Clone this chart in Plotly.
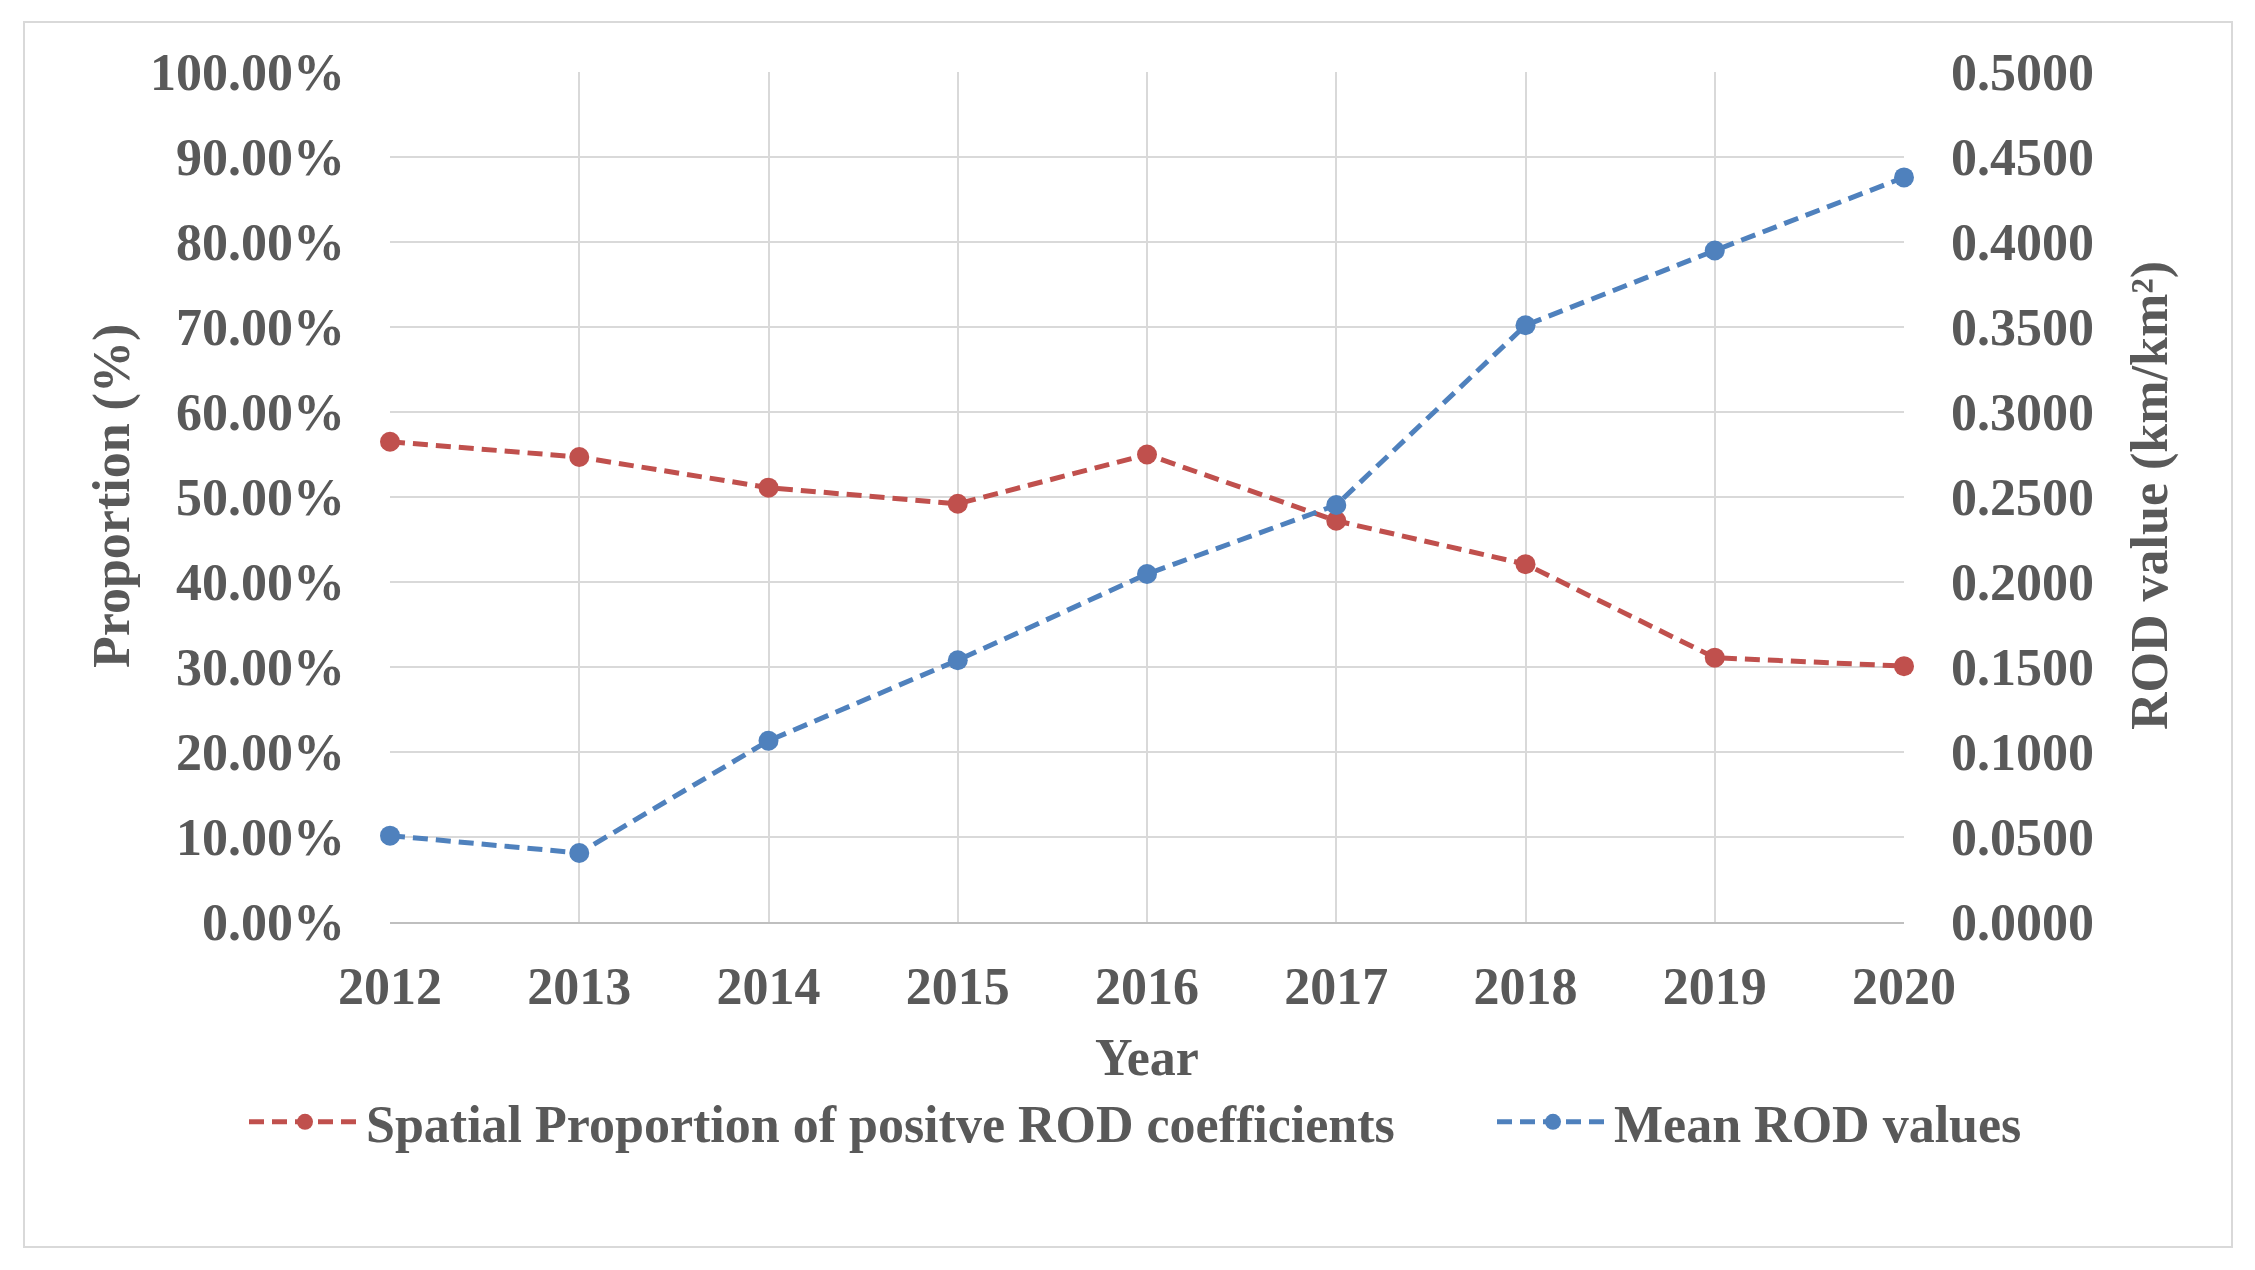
import plotly.graph_objects as go

years = [2012, 2013, 2014, 2015, 2016, 2017, 2018, 2019, 2020]
proportion_positive = [56.5, 54.7, 51.1, 49.2, 55.0, 47.2, 42.1, 31.1, 30.1]
mean_rod = [0.0508, 0.0406, 0.1066, 0.1540, 0.2047, 0.2453, 0.3510, 0.3950, 0.4380]

left_ticks = [0, 10, 20, 30, 40, 50, 60, 70, 80, 90, 100]
left_labels = [f"{v:.2f}%" for v in left_ticks]
right_ticks = [0, 0.05, 0.1, 0.15, 0.2, 0.25, 0.3, 0.35, 0.4, 0.45, 0.5]
right_labels = [f"{v:.4f}" for v in right_ticks]

RED = "#C0504D"
BLUE = "#4F81BD"
GRID = "#D9D9D9"
TXT = "#595959"
FONT = "Liberation Serif"
FS = 52

W, H = 2255, 1270
OFF = 8  # page offset of the figure in the browser
L, T = 390 - OFF, 72 - OFF
PR, PB = 1904 - OFF, 922 - OFF
R, B = W - PR, H - PB
pw, ph = PR - L, PB - T

def px_x(x):
    return (x - OFF - L) / pw

def px_y(y):
    return (PB - (y - OFF)) / ph

fig = go.Figure()
fig.add_trace(go.Scatter(
    x=years, y=proportion_positive, name="Spatial Proportion of positve ROD coefficients",
    mode="lines+markers", cliponaxis=False, legend="legend",
    line=dict(color=RED, width=5, dash="15px,8px"),
    marker=dict(color=RED, size=20, symbol="circle"),
    yaxis="y"))
fig.add_trace(go.Scatter(
    x=years, y=mean_rod, name="Mean ROD values",
    mode="lines+markers", cliponaxis=False, legend="legend2",
    line=dict(color=BLUE, width=5, dash="15px,8px"),
    marker=dict(color=BLUE, size=20, symbol="circle"),
    yaxis="y2"))

tickfont = dict(family=FONT, size=FS, color=TXT, weight="bold")
legfont = dict(family=FONT, size=FS, color=TXT, weight="bold")

fig.update_layout(
    width=W, height=H,
    margin=dict(l=L, r=R, t=T, b=B, autoexpand=False),
    paper_bgcolor="white", plot_bgcolor="white",
    font=dict(family=FONT, size=FS, color=TXT, weight="bold"),
    xaxis=dict(range=[2012, 2020], tickvals=years, ticktext=[str(y) for y in years],
               showgrid=True, gridcolor=GRID, gridwidth=2, zeroline=False,
               showline=True, linecolor="#BFBFBF", linewidth=2, mirror=False,
               ticks="", tickfont=tickfont, ticklabelstandoff=18, automargin=False),
    yaxis=dict(range=[0, 100], tickvals=left_ticks, ticktext=left_labels,
               showgrid=True, gridcolor=GRID, gridwidth=2, zeroline=False,
               showline=False, ticks="", tickfont=tickfont, ticklabelstandoff=44,
               automargin=False),
    yaxis2=dict(range=[0, 0.5], tickvals=right_ticks, ticktext=right_labels,
                overlaying="y", side="right", showgrid=False, zeroline=False,
                showline=False, ticks="", tickfont=tickfont, ticklabelstandoff=46,
                automargin=False),
    legend=dict(orientation="h", x=px_x(244), xanchor="left", y=px_y(1122), yanchor="middle",
                font=legfont, itemwidth=112, bgcolor="rgba(0,0,0,0)"),
    legend2=dict(orientation="h", x=px_x(1492), xanchor="left", y=px_y(1122), yanchor="middle",
                 font=legfont, itemwidth=112, bgcolor="rgba(0,0,0,0)"),
    showlegend=True,
)

fig.add_annotation(text="Year", xref="paper", yref="paper", x=px_x(1147),
                   y=px_y(1057), xanchor="center", yanchor="middle", showarrow=False,
                   font=dict(family=FONT, size=FS, color=TXT, weight="bold"))
fig.add_annotation(text="Proportion (%)", xref="paper", yref="paper", x=px_x(112),
                   y=px_y(496), xanchor="center", yanchor="middle", showarrow=False, textangle=-90,
                   font=dict(family=FONT, size=FS, color=TXT, weight="bold"))
fig.add_annotation(text="ROD value (km/km²)", xref="paper", yref="paper", x=px_x(2150),
                   y=px_y(496), xanchor="center", yanchor="middle", showarrow=False, textangle=-90,
                   font=dict(family=FONT, size=FS, color=TXT, weight="bold"))

fig.add_shape(type="rect", xref="paper", yref="paper",
              x0=px_x(24), x1=px_x(2232), y0=px_y(1247), y1=px_y(22),
              line=dict(color=GRID, width=2), fillcolor="rgba(0,0,0,0)", layer="below")

fig.write_html("out.html")
